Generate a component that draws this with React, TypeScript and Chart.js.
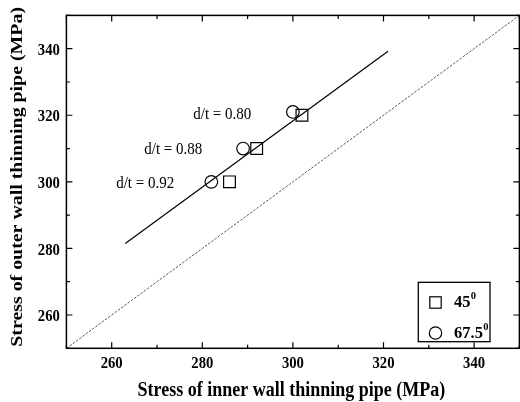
import React, { useEffect, useRef } from 'react';
import { Chart, registerables } from 'chart.js';

Chart.register(...registerables);

const SERIF = '"Liberation Serif", "Times New Roman", Times, serif';
// The typeface is drawn slightly taller than wide
const TEXT_STRETCH = 1.13;

// Measured stresses (MPa): inner-wall thinning (x) vs outer-wall thinning (y)
const squareX = [286, 292, 302];
const squareY = [300, 310, 320];
const circleX = [282, 289, 300];
const circleY = [300, 310, 321];

// Fitted trend line end points
const fitX = [263, 321];
const fitY = [281.5, 339.2];

// Equality reference line (y = x)
const equalX = [250, 350];
const equalY = [250, 350];

const axisMin = 250;
const axisMax = 350;
const tickValues = [260, 280, 300, 320, 340];
const minorTickValues = [250, 270, 290, 310, 330, 350];

// d/t annotations anchored in data coordinates (centre, baseline)
const ratioTexts = ['d/t = 0.80', 'd/t = 0.88', 'd/t = 0.92'];
const ratioTextX = [284.4, 273.6, 267.4];
const ratioTextY = [319.0, 308.5, 298.1];

const legendNames = ['45', '67.5'];
const legendSup = '0';

const xTitle = 'Stress of inner wall thinning pipe (MPa)';
const yTitle = 'Stress of outer wall thinning pipe (MPa)';

const toPoints = (xs: number[], ys: number[]) => xs.map((x, i) => ({ x, y: ys[i] }));

function drawText(
  ctx: CanvasRenderingContext2D,
  text: string,
  x: number,
  y: number,
  font: string,
  align: CanvasTextAlign,
  rotation = 0,
  stretch = TEXT_STRETCH,
) {
  ctx.save();
  ctx.translate(x, y);
  ctx.scale(1, stretch);
  ctx.rotate(rotation);
  ctx.font = font;
  ctx.textAlign = align;
  ctx.textBaseline = 'alphabetic';
  ctx.fillText(text, 0, 0);
  ctx.restore();
}

const decorPlugin = {
  id: 'decor',
  afterDatasetsDraw(chart: any) {
    const { ctx, chartArea: a, scales } = chart;
    const xs = scales.x;
    const ys = scales.y;
    ctx.save();
    ctx.strokeStyle = '#000';
    ctx.fillStyle = '#000';

    // frame
    ctx.lineWidth = 1.5;
    ctx.strokeRect(a.left, a.top, a.right - a.left, a.bottom - a.top);

    // inward tick marks on all four sides
    ctx.lineWidth = 1.2;
    const drawTicks = (values: number[], len: number) => {
      values.forEach((v) => {
        const px = xs.getPixelForValue(v);
        const py = ys.getPixelForValue(v);
        ctx.beginPath();
        ctx.moveTo(px, a.bottom); ctx.lineTo(px, a.bottom - len);
        ctx.moveTo(px, a.top); ctx.lineTo(px, a.top + len);
        ctx.moveTo(a.left, py); ctx.lineTo(a.left + len, py);
        ctx.moveTo(a.right, py); ctx.lineTo(a.right - len, py);
        ctx.stroke();
      });
    };
    drawTicks(tickValues, 6);
    drawTicks(minorTickValues, 3.5);

    // tick labels
    const tickFont = `bold 14.7px ${SERIF}`;
    tickValues.forEach((v) => {
      drawText(ctx, String(v), xs.getPixelForValue(v), a.bottom + 20, tickFont, 'center');
      drawText(ctx, String(v), a.left - 6.5, ys.getPixelForValue(v) + 6.2, tickFont, 'right');
    });

    // axis titles
    drawText(ctx, xTitle, (a.left + a.right) / 2 - 1.5, a.bottom + 47.7, `bold 18px ${SERIF}`, 'center');
    drawText(ctx, yTitle, 22, (a.top + a.bottom) / 2 - 5, `bold 17.6px ${SERIF}`, 'center', -Math.PI / 2);

    // d/t annotations
    ratioTexts.forEach((t, i) => {
      drawText(ctx, t, xs.getPixelForValue(ratioTextX[i]), ys.getPixelForValue(ratioTextY[i]),
        `15px ${SERIF}`, 'center', 0, 1.08);
    });

    // legend box in the lower right corner
    const boxW = 71.7;
    const boxH = 59.4;
    const bx = a.right - 29.4 - boxW;
    const by = a.bottom - 6.6 - boxH;
    ctx.lineWidth = 1.3;
    ctx.strokeRect(bx, by, boxW, boxH);

    const rowY = [by + 20.2, by + 50.7];
    const mx = bx + 17.2;
    ctx.lineWidth = 1.2;
    ctx.strokeRect(mx - 5.7, rowY[0] - 5.7, 11.4, 11.4);
    ctx.beginPath();
    ctx.arc(mx, rowY[1], 6.2, 0, Math.PI * 2);
    ctx.stroke();

    legendNames.forEach((name, i) => {
      const tx = bx + 35.7;
      const base = rowY[i] + 4.8;
      const font = `bold 16.5px ${SERIF}`;
      drawText(ctx, name, tx, base, font, 'left', 0, 1);
      ctx.font = font;
      const w = ctx.measureText(name).width;
      drawText(ctx, legendSup, tx + w + 0.3, base - 8, `bold 10.5px ${SERIF}`, 'left', 0, 1.05);
    });

    ctx.restore();
  },
};

export default function App() {
  const canvasRef = useRef<HTMLCanvasElement | null>(null);

  useEffect(() => {
    if (!canvasRef.current) return;

    const chart = new Chart(canvasRef.current, {
      type: 'scatter',
      data: {
        datasets: [
          {
            label: 'y = x',
            data: toPoints(equalX, equalY),
            showLine: true,
            pointRadius: 0,
            borderColor: '#444',
            borderWidth: 0.9,
            borderDash: [2.5, 1.5],
          },
          {
            label: 'fit',
            data: toPoints(fitX, fitY),
            showLine: true,
            pointRadius: 0,
            borderColor: '#000',
            borderWidth: 1.2,
          },
          {
            label: '45',
            data: toPoints(squareX, squareY),
            pointStyle: 'rect',
            pointRadius: 8.3,
            pointBorderWidth: 1.2,
            borderColor: '#000',
            backgroundColor: 'rgba(0,0,0,0)',
          },
          {
            label: '67.5',
            data: toPoints(circleX, circleY),
            pointStyle: 'circle',
            pointRadius: 6.3,
            pointBorderWidth: 1.2,
            borderColor: '#000',
            backgroundColor: 'rgba(0,0,0,0)',
          },
        ],
      },
      options: {
        responsive: false,
        animation: false,
        layout: { autoPadding: false, padding: { left: 0, top: 15.4, right: 0.6, bottom: 0 } },
        plugins: {
          legend: { display: false },
          tooltip: { enabled: false },
        },
        scales: {
          x: {
            type: 'linear',
            position: 'bottom',
            min: axisMin,
            max: axisMax,
            grid: { display: false, drawTicks: false },
            border: { display: false },
            ticks: { display: false },
            afterFit: (s: any) => { s.height = 53.7; s.paddingLeft = 0; s.paddingRight = 0; },
          },
          y: {
            type: 'linear',
            position: 'left',
            min: axisMin,
            max: axisMax,
            grid: { display: false, drawTicks: false },
            border: { display: false },
            ticks: { display: false },
            afterFit: (s: any) => { s.width = 66.4; s.paddingTop = 0; s.paddingBottom = 0; },
          },
        },
      },
      plugins: [decorPlugin],
    });
    return () => chart.destroy();
  }, []);

  return (
    <div style={{ position: 'absolute', left: 0, top: 0, width: 520, height: 402, background: '#fff' }}>
      <canvas ref={canvasRef} width={520} height={402} style={{ display: 'block' }} />
    </div>
  );
}
